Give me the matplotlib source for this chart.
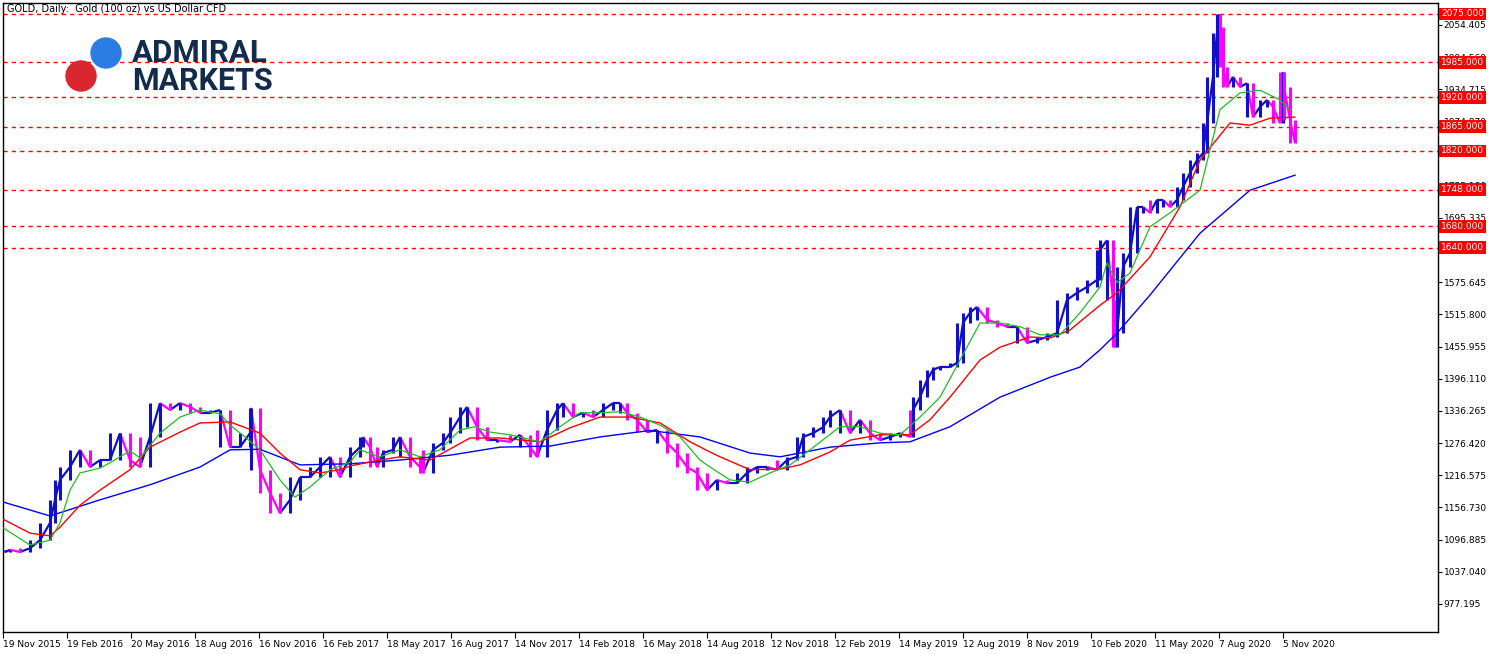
import matplotlib
matplotlib.use("Agg")
import matplotlib.pyplot as plt
import numpy as np
from matplotlib.collections import LineCollection
from matplotlib.patches import Circle
from matplotlib.transforms import IdentityTransform

# bar index (trading days since 19 Nov 2015) and closing prices
bar = [2,7,17,27,37,47,52,57,67,77,87,97,107,117,127,137,147,157,167,177,187,197,207,217,227,237,247,248,257,267,277,287,297,307,317,327,337,347,357,360,367,374,380,390,397,407,417,420,430,440,447,457,464,474,484,494,507,517,527,534,544,554,560,570,580,590,600,610,617,624,634,644,654,664,674,684,694,704,714,724,734,744,754,764,774,784,794,800,810,820,827,837,847,857,867,877,887,897,907,910,917,924,930,937,947,954,960,967,974,984,994,1004,1014,1024,1034,1044,1054,1064,1074,1084,1094,1097,1104,1110,1112,1114,1120,1127,1134,1140,1147,1154,1160,1167,1174,1180,1187,1194,1200,1204,1210,1214,1216,1217,1220,1224,1230,1237,1244,1250,1257,1264,1270,1277,1280,1281,1287,1292]
close = [1074,1078,1074,1081,1096,1128,1171,1208,1232,1264,1232,1245,1245,1295,1245,1232,1288,1351,1338,1351,1344,1333,1333,1338,1269,1269,1295,1342,1227,1184,1146,1171,1213,1213,1232,1251,1213,1251,1269,1288,1269,1232,1258,1264,1288,1251,1232,1221,1264,1277,1295,1325,1344,1307,1282,1282,1279,1292,1269,1251,1301,1338,1351,1325,1333,1325,1338,1351,1351,1333,1320,1297,1301,1277,1258,1232,1221,1189,1208,1202,1202,1221,1232,1232,1227,1245,1251,1288,1295,1306,1325,1338,1295,1320,1295,1282,1288,1295,1288,1338,1362,1394,1413,1418,1418,1426,1500,1519,1530,1506,1500,1493,1493,1463,1468,1474,1481,1543,1556,1567,1580,1636,1654,1543,1455,1481,1604,1630,1716,1716,1705,1729,1729,1716,1729,1753,1779,1803,1816,1872,1958,2040,2074,2051,1976,1939,1958,1939,1946,1883,1902,1915,1902,1872,1967,1939,1878,1835]

ma_fast_x = [0,27,47,57,67,77,97,107,127,137,157,177,197,217,227,242,257,277,292,307,327,347,357,377,397,417,437,457,472,487,507,537,557,577,597,617,637,657,677,697,707,727,747,767,787,807,837,857,877,897,917,937,957,977,997,1017,1037,1057,1077,1097,1104,1114,1127,1147,1167,1197,1207,1217,1237,1257,1277,1287]
ma_fast = [1119,1087,1096,1128,1189,1221,1230,1240,1262,1249,1295,1325,1338,1331,1310,1288,1264,1208,1176,1195,1227,1241,1264,1251,1264,1251,1264,1301,1307,1297,1292,1279,1307,1333,1333,1335,1325,1310,1288,1245,1232,1208,1204,1221,1236,1264,1307,1307,1295,1292,1325,1362,1431,1500,1500,1493,1478,1478,1519,1567,1612,1575,1593,1679,1705,1747,1822,1897,1928,1933,1915,1896]
ma_mid_x = [0,27,47,57,77,97,127,147,177,197,227,257,277,297,317,337,347,377,397,427,467,497,537,567,597,627,657,687,707,717,747,777,797,827,847,877,907,927,947,977,997,1027,1047,1067,1097,1114,1147,1177,1197,1227,1247,1267,1292]
ma_mid = [1135,1109,1104,1120,1161,1189,1227,1269,1297,1314,1316,1295,1258,1227,1221,1227,1234,1245,1251,1245,1286,1286,1279,1305,1325,1325,1314,1279,1260,1251,1227,1228,1236,1260,1282,1292,1292,1320,1362,1431,1455,1474,1472,1487,1533,1556,1623,1716,1803,1872,1868,1881,1883]
ma_slow_x = [0,47,97,147,197,227,257,297,347,397,447,497,547,597,647,697,747,777,827,877,907,947,997,1047,1077,1097,1114,1147,1197,1247,1292]
ma_slow = [1167,1141,1171,1199,1232,1264,1265,1236,1238,1245,1254,1269,1271,1288,1300,1288,1258,1251,1269,1277,1279,1307,1362,1399,1418,1450,1481,1552,1667,1747,1775]

levels = [2075, 1985, 1920, 1865, 1820, 1748, 1680, 1640]
ytick_vals = [977.195, 1037.040, 1096.885, 1156.730, 1216.575, 1276.420, 1336.265, 1396.110,
              1455.955, 1515.800, 1575.645, 1635.490, 1695.335, 1755.180, 1815.025, 1874.870,
              1934.715, 1994.560, 2054.405]
xtick_labels = ["19 Nov 2015","19 Feb 2016","20 May 2016","18 Aug 2016","16 Nov 2016","16 Feb 2017",
                "18 May 2017","16 Aug 2017","14 Nov 2017","14 Feb 2018","16 May 2018","14 Aug 2018",
                "12 Nov 2018","12 Feb 2019","14 May 2019","12 Aug 2019","8 Nov 2019","10 Feb 2020",
                "11 May 2020","7 Aug 2020","5 Nov 2020"]
xtick_pos = [i * 64 for i in range(len(xtick_labels))]

W, H = 1496, 654
fig = plt.figure(figsize=(W/100, H/100), dpi=100)
ax = fig.add_axes([3/W, 1-632/H, 1435/W, 629/H])
ax.set_xlim(0, 1435)
ax.set_ylim(925.1, 2095.3)

# bars
b = np.array(bar); c = np.array(close)
up = '#1010c8'; dn = '#ff00ff'
segs = [[(b[i], c[i]), (b[i+1], c[i+1])] for i in range(len(b)-1)]
cols = [up if c[i+1] >= c[i] else dn for i in range(len(b)-1)]
ax.add_collection(LineCollection(segs, colors=cols, linewidths=1.6, zorder=3))
# high-low bars spanning neighbouring closes
vsegs, vcols = [], []
for i in range(len(b)):
    lo_n = min(c[max(i-1, 0)], c[i], c[min(i+1, len(c)-1)])
    hi_n = max(c[max(i-1, 0)], c[i], c[min(i+1, len(c)-1)])
    vsegs.append([(b[i], lo_n), (b[i], hi_n)])
    vcols.append(up if i == 0 or c[i] >= c[i-1] else dn)
ax.add_collection(LineCollection(vsegs, colors=vcols, linewidths=2.2, zorder=3))

ax.plot(ma_slow_x, ma_slow, color='#0000ff', lw=1, zorder=4)
ax.plot(ma_mid_x, ma_mid, color='#ff0000', lw=1, zorder=4)
ax.plot(ma_fast_x, ma_fast, color='#22bb22', lw=0.9, zorder=4)

for lv in levels:
    ax.axhline(lv, color='#ff0000', lw=1, ls=(0, (3, 3)), zorder=2)
    ax.text(1.002, lv, f"{lv:.3f}", transform=ax.get_yaxis_transform(), ha='left', va='center',
            fontsize=6.5, color='white', zorder=10,
            bbox=dict(boxstyle='square,pad=0.2', fc='#ff0000', ec='none'))

ax.yaxis.tick_right()
ax.set_yticks(ytick_vals)
ax.set_yticklabels([f"{v:.3f}" for v in ytick_vals], fontsize=6.5)
ax.tick_params(axis='y', direction='out', length=3, width=0.8, pad=1)
ax.set_xticks(xtick_pos)
ax.set_xticklabels(xtick_labels, fontsize=6.5, ha='left')
ax.tick_params(axis='x', direction='out', length=4, width=0.8, pad=2)
for sp in ax.spines.values():
    sp.set_linewidth(1)

fig.text(7/W, 1-9/H, "GOLD, Daily:  Gold (100 oz) vs US Dollar CFD", fontsize=7, va='center', ha='left')

# logo
fig.add_artist(Circle((106, H-53), 15, transform=IdentityTransform(), color='#2b7de1', zorder=20))
fig.add_artist(Circle((81, H-76), 15, transform=IdentityTransform(), color='#d9262f', zorder=20))
fig.text(132/W, 1-53/H, "ADMIRAL", fontsize=22.5, fontweight='bold', family='Roboto',
         color='#132b4c', va='center', ha='left', zorder=20)
fig.text(132/W, 1-81/H, "MARKETS", fontsize=22, fontweight='bold', family='Roboto',
         color='#132b4c', va='center', ha='left', zorder=20)

fig.savefig("out.png", dpi=100)
